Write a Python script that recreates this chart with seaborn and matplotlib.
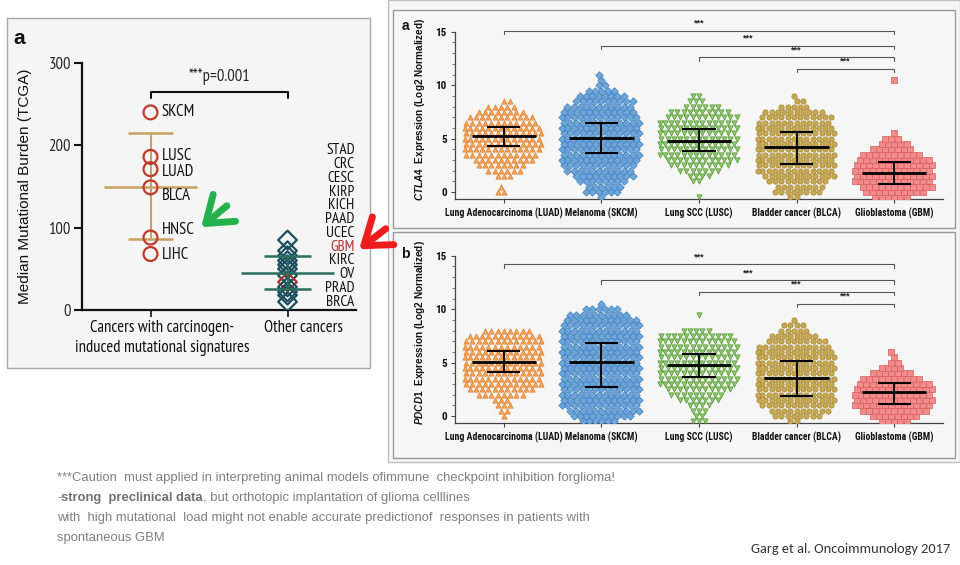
import numpy as np
import pandas as pd
import matplotlib
matplotlib.use("Agg")
import matplotlib.pyplot as plt
import seaborn as sns
from matplotlib.patches import Rectangle, FancyArrowPatch
from matplotlib.ticker import FixedLocator

sns.set_theme(style="white")
NARROW = ["PT Sans Narrow", "DejaVu Sans"]
BOLDNARROW = ["Roboto Condensed", "DejaVu Sans"]
plt.rcParams["font.family"] = ["Liberation Sans", "DejaVu Sans"]
plt.rcParams["mathtext.fontset"] = "custom"
plt.rcParams["mathtext.it"] = "Liberation Sans:italic:bold"
plt.rcParams["mathtext.rm"] = "Liberation Sans:bold"

# ---------------- data: left panel ----------------
left_cats = ["carcinogen", "other"]
left_cat_labels = ["Cancers with carcinogen-\ninduced mutational signatures", "Other cancers"]
carc_names = ["SKCM", "LUSC", "LUAD", "BLCA", "HNSC", "LIHC"]
carc_vals = [240, 186, 171, 149, 88, 68]
carc_label_y = [240, 187, 168, 138, 97, 67]
carc_mean, carc_lo, carc_hi = 150, 86, 215
other_names = ["STAD", "CRC", "CESC", "KIRP", "KICH", "PAAD", "UCEC", "GBM", "KIRC", "OV", "PRAD", "BRCA"]
other_vals = [85, 72, 66, 60, 55, 50, 42, 34, 28, 22, 18, 10]
other_mean, other_lo, other_hi = 45, 25, 65

# ---------------- data: right panels ----------------
groups = ["LUAD", "SKCM", "LUSC", "BLCA", "GBM"]
group_labels = ["Lung Adenocarcinoma (LUAD)", "Melanoma (SKCM)", "Lung SCC (LUSC)",
                "Bladder cancer (BLCA)", "Glioblastoma (GBM)"]
levels = [-0.5, 0, 0.5, 1, 1.5, 2, 2.5, 3, 3.5, 4, 4.5, 5, 5.5, 6, 6.5, 7, 7.5, 8,
          8.5, 9, 9.5, 10, 10.5, 11]
# number of samples read at each expression level (panel a: CTLA4)
ctla4_luad = [0, 2, 1, 0, 3, 6, 8, 10, 12, 13, 13, 13, 13, 13, 12, 11, 8, 5, 2, 0, 0, 0, 0, 0]
ctla4_skcm = [1, 6, 6, 8, 10, 11, 12, 13, 13, 13, 13, 13, 13, 13, 13, 13, 12, 11, 10, 8, 5, 2, 1, 1]
ctla4_lusc = [1, 0, 0, 2, 4, 7, 10, 12, 13, 13, 13, 13, 13, 13, 13, 12, 10, 6, 3, 2, 0, 0, 0, 0]
ctla4_blca = [2, 8, 8, 10, 12, 13, 13, 13, 13, 13, 13, 13, 13, 13, 12, 12, 10, 5, 2, 1, 0, 0, 0, 0]
ctla4_gbm = [6, 10, 12, 13, 13, 13, 13, 12, 10, 7, 5, 3, 1, 0, 0, 0, 0, 0, 0, 0, 0, 0, 1, 0]
ctla4_mean = [5.25, 5.1, 4.8, 4.2, 1.8]
ctla4_hi = [6.1, 6.45, 5.9, 5.65, 2.8]
ctla4_lo = [4.3, 3.65, 3.85, 2.6, 0.75]
ctla4_brackets = [15.1, 13.7, 12.6, 11.5]
# panel b: PDCD1
pdcd1_luad = [0, 1, 2, 3, 3, 8, 11, 13, 13, 13, 13, 13, 13, 13, 13, 13, 12, 8, 0, 0, 0, 0, 0, 0]
pdcd1_skcm = [6, 10, 12, 13, 13, 13, 13, 13, 13, 13, 13, 13, 13, 13, 13, 13, 13, 13, 13, 12, 10, 6, 1, 0]
pdcd1_lusc = [3, 2, 3, 4, 7, 9, 11, 13, 13, 13, 13, 13, 13, 13, 13, 13, 12, 5, 0, 0, 1, 0, 0, 0]
pdcd1_blca = [2, 8, 10, 12, 13, 13, 13, 13, 13, 13, 13, 13, 13, 13, 12, 10, 8, 5, 4, 1, 0, 0, 0, 0]
pdcd1_gbm = [5, 8, 11, 13, 13, 13, 13, 12, 10, 7, 4, 2, 1, 1, 0, 0, 0, 0, 0, 0, 0, 0, 0, 0]
pdcd1_mean = [5.06, 5.06, 4.78, 3.56, 2.25]
pdcd1_hi = [6.1, 6.84, 5.8, 5.15, 3.1]
pdcd1_lo = [4.1, 2.72, 3.66, 1.87, 1.1]
pdcd1_brackets = [14.2, 12.7, 11.6, 10.5]
bracket_from = ["LUAD", "SKCM", "LUSC", "BLCA"]
bracket_to = "GBM"

markers = ["^", "D", "v", "o", "s"]
faces = ["#F5A45B", "#6EA6DA", "#8DC66B", "#C9A853", "#F28C8C"]
edges = ["#E07F2A", "#3F7FBF", "#5A9A3A", "#A58731", "#D95B5B"]

W, H = 960, 565
fig = plt.figure(figsize=(9.6, 5.65), dpi=100)
fig.patch.set_facecolor("white")


def P(x, y):
    return x / W, 1 - y / H


def rect(x0, y0, x1, y1, fc, ec, lw=1.0):
    fig.patches.append(Rectangle(P(x0, y1), (x1 - x0) / W, (y1 - y0) / H,
                                 transform=fig.transFigure, facecolor=fc,
                                 edgecolor=ec, lw=lw, zorder=-5))


# backgrounds
rect(7, 18, 370, 368, "#f5f5f5", "#a8a8a8")
rect(388, 0, 960, 462, "#f6f6f6", "#c0c0c0")
rect(393, 10, 955, 228, "#f6f6f6", "#9a9a9a")
rect(393, 232, 955, 458, "#f6f6f6", "#9a9a9a")

# ---------------- left panel ----------------
axL = fig.add_axes([82 / W, (H - 310) / H, 274 / W, 247 / H])
axL.set_facecolor("none")


def open_markers(ax, start, edgecolors):
    for c in ax.collections[start:]:
        if len(c.get_offsets()) > 0:
            c.set_facecolor("none")
            c.set_edgecolor(edgecolors)
            c.set_linewidth(1.6)


n0 = len(axL.collections)
sns.stripplot(x=["carcinogen"] * len(carc_vals), y=carc_vals, order=left_cats, jitter=False,
              marker="o", size=10, color="#c0392b", ax=axL, zorder=4)
open_markers(axL, n0, "#c0392b")
n0 = len(axL.collections)
sns.stripplot(x=["other"] * len(other_vals), y=other_vals, order=left_cats, jitter=False,
              marker="D", size=9.5, color="#1d4f5c", ax=axL, zorder=4)
open_markers(axL, n0, ["#b03030" if n == "GBM" else "#1d4f5c" for n in other_names])

axL.hlines(carc_mean, -0.34, 0.34, color="#c8a060", lw=1.8, zorder=3)
axL.hlines([carc_lo, carc_hi], -0.165, 0.165, color="#c8a060", lw=1.8, zorder=3)
axL.vlines(0, carc_lo, carc_hi, color="#c8a060", lw=1.5, zorder=3)
axL.hlines(other_mean, 1 - 0.34, 1 + 0.34, color="#2a6e5e", lw=1.8, zorder=5)
axL.hlines([other_lo, other_hi], 1 - 0.17, 1 + 0.17, color="#2a6e5e", lw=1.8, zorder=5)
axL.vlines(1, other_lo, other_hi, color="#2a6e5e", lw=1.5, zorder=5)

for n, yv in zip(carc_names, carc_label_y):
    axL.text(0.08, yv, n, va="center", ha="left", fontsize=12, family=NARROW, color="#111")
for n, yv in zip(other_names, np.linspace(194, 10, len(other_names))):
    axL.text(1.49, yv, n, va="center", ha="right", fontsize=11, family=NARROW,
             color="#b03030" if n == "GBM" else "#111")

axL.plot([0, 0, 1, 1], [258, 265, 265, 258], color="#111", lw=1.5, clip_on=False)
axL.text(0.5, 273, "***p=0.001", ha="center", va="bottom", fontsize=12, family=NARROW)

axL.set_xlim(-0.5, 1.5)
axL.set_ylim(0, 300)
axL.set_yticks([0, 100, 200, 300])
axL.set_xticks([0, 1])
axL.set_xticklabels(["", ""])
axL.set_xlabel("")
for s in ["top", "right"]:
    axL.spines[s].set_visible(False)
for s in ["left", "bottom"]:
    axL.spines[s].set_color("#111")
    axL.spines[s].set_linewidth(1.6)
axL.tick_params(axis="y", length=6, width=1.5, color="#111", labelsize=12, pad=2, left=True)
axL.tick_params(axis="x", length=5, width=1.2, color="#111", bottom=True)
for t in axL.get_yticklabels():
    t.set_family(NARROW)
axL.set_ylabel("Median Mutational Burden (TCGA)", fontsize=11, color="#111")
axL.yaxis.set_label_coords((32 - 82) / 274, 0.5)
fig.text(*P(162, 338), left_cat_labels[0], ha="center", va="center", fontsize=12,
         family=NARROW, linespacing=1.3, color="#111")
fig.text(*P(303, 328), left_cat_labels[1], ha="center", va="center", fontsize=12,
         family=NARROW, color="#111")
fig.text(*P(19, 38), "a", fontsize=15, fontweight="bold", ha="center", va="center", color="#111")

# arrows
fig.add_artist(FancyArrowPatch(
    P(229, 204), P(199, 229), transform=fig.transFigure,
    arrowstyle="->,head_length=5,head_width=3.6", color="#22b14c", lw=5,
    mutation_scale=3.5, capstyle="round", joinstyle="round"))
fig.add_artist(FancyArrowPatch(
    P(388, 227), P(357, 251), transform=fig.transFigure,
    arrowstyle="->,head_length=5,head_width=3.6", color="#ee1c1c", lw=5,
    mutation_scale=3.5, capstyle="round", joinstyle="round"))


# ---------------- right panels ----------------
def expression_panel(ax, counts, means, his, los, brackets, gene, letter, letter_y):
    ax.set_facecolor("none")
    for g, cnt, m, fc, ec in zip(groups, counts, markers, faces, edges):
        vals = np.repeat(levels, cnt)
        sns.swarmplot(x=[g] * len(vals), y=vals, order=groups, marker=m, color=fc,
                      edgecolor=ec, linewidth=0.5, size=3.8, ax=ax, warn_thresh=1)
    xs = np.arange(len(groups))
    ax.hlines(means, xs - 0.33, xs + 0.33, color="black", lw=2, zorder=6)
    ax.hlines(his, xs - 0.17, xs + 0.17, color="black", lw=1.5, zorder=6)
    ax.hlines(los, xs - 0.17, xs + 0.17, color="black", lw=1.5, zorder=6)
    ax.vlines(xs, los, his, color="black", lw=1.3, zorder=6)
    j = groups.index(bracket_to)
    for g, h in zip(bracket_from, brackets):
        i = groups.index(g)
        ax.plot([i, i, j, j], [h - 0.3, h, h, h - 0.3], color="#555", lw=0.8, clip_on=False)
        ax.text((i + j) / 2, h + 0.3, "***", ha="center", va="bottom", fontsize=6.5,
                fontweight="bold", color="#222")
    ax.set_xlim(-0.5, 4.5)
    ax.set_ylim(-0.66, 16.2)
    ax.set_yticks([0, 5, 10, 15])
    ax.yaxis.set_minor_locator(FixedLocator(np.arange(0, 16)))
    ax.set_xticks(xs)
    ax.set_xticklabels(group_labels)
    for t in ax.get_xticklabels():
        t.set_family(BOLDNARROW)
        t.set_fontweight("bold")
        t.set_fontsize(7)
        t.set_color("#111")
    for t in ax.get_yticklabels():
        t.set_family(BOLDNARROW)
        t.set_fontweight("bold")
        t.set_fontsize(8)
        t.set_color("#111")
    ax.set_xlabel("")
    ax.set_ylabel(r"$\it{" + gene + "}$  Expression (Log2 Normalized)", fontsize=7.2,
                  fontweight="bold", color="#111")
    ax.yaxis.set_label_coords((427 - 455) / 488, 0.5)
    for s in ["top", "right"]:
        ax.spines[s].set_visible(False)
    ax.spines["left"].set_bounds(-0.66, 15)
    for s in ["left", "bottom"]:
        ax.spines[s].set_color("#444")
        ax.spines[s].set_linewidth(0.9)
    ax.tick_params(axis="y", which="major", length=3, width=0.8, color="#444", pad=3, left=True)
    ax.tick_params(axis="y", which="minor", length=2, width=0.6, color="#666", left=True)
    ax.tick_params(axis="x", length=3, width=0.8, color="#444", pad=3, bottom=True)
    fig.text(*P(405, letter_y), letter, fontsize=10, fontweight="bold", ha="center",
             va="center", color="#111")


axA = fig.add_axes([455 / W, (H - 199) / H, 488 / W, 180 / H])
expression_panel(axA, [ctla4_luad, ctla4_skcm, ctla4_lusc, ctla4_blca, ctla4_gbm],
                 ctla4_mean, ctla4_hi, ctla4_lo, ctla4_brackets, "CTLA4", "a", 26)
axB = fig.add_axes([455 / W, (H - 423) / H, 488 / W, 180 / H])
expression_panel(axB, [pdcd1_luad, pdcd1_skcm, pdcd1_lusc, pdcd1_blca, pdcd1_gbm],
                 pdcd1_mean, pdcd1_hi, pdcd1_lo, pdcd1_brackets, "PDCD1", "b", 254)

# ---------------- notes ----------------
note_kw = dict(fontsize=9.4, color="#808080", family=["Liberation Sans", "DejaVu Sans"])
fig.text(*P(57, 478), "***Caution  must applied in interpreting animal models ofimmune  checkpoint inhibition forglioma!",
         va="center", **note_kw)
t1 = fig.text(*P(57, 498), "-", va="center", **note_kw)
a2 = plt.annotate("strong  preclinical data", xy=(1, 0), xycoords=t1, va="bottom", ha="left",
                  fontweight="bold", fontsize=9.4, color="#707070",
                  family=["Liberation Sans", "DejaVu Sans"], annotation_clip=False)
plt.annotate(", but orthotopic implantation of glioma celllines", xy=(1, 0), xycoords=a2,
             va="bottom", ha="left", annotation_clip=False, **note_kw)
fig.text(*P(57, 518), "with  high mutational  load might not enable accurate predictionof  responses in patients with",
         va="center", **note_kw)
fig.text(*P(57, 538), "spontaneous GBM", va="center", **note_kw)
fig.text(*P(751, 549), "Garg et al. Oncoimmunology 2017", va="center", ha="left",
         fontsize=10.4, color="#333", family=["Carlito", "DejaVu Sans"])

fig.savefig("out.png", dpi=100)
